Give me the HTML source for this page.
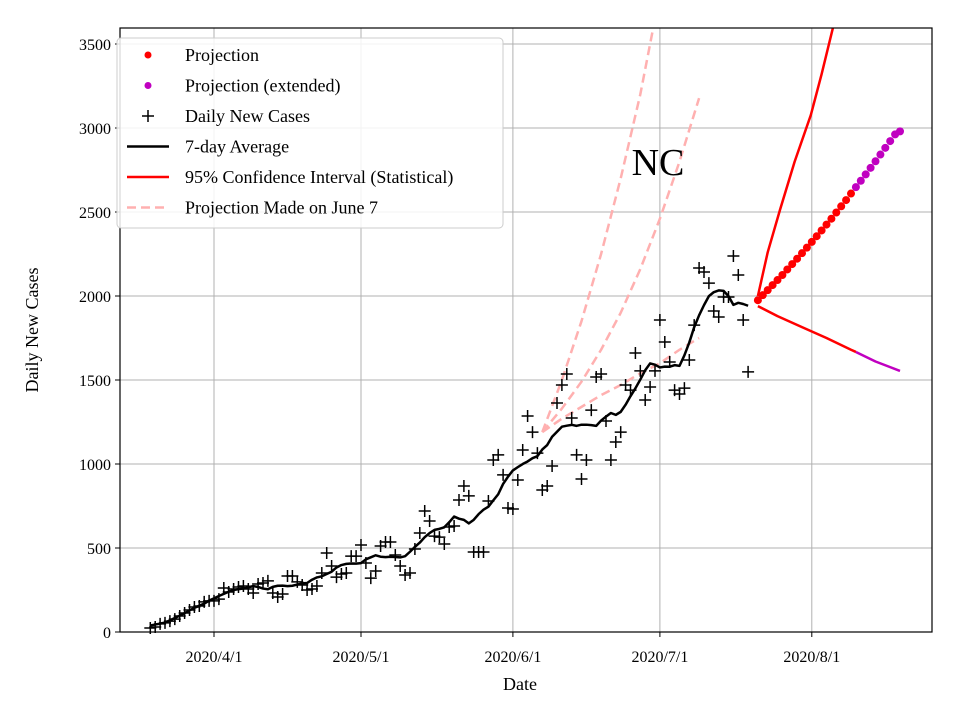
<!DOCTYPE html>
<html><head><meta charset="utf-8"><style>
body{margin:0;background:#fff}
svg{display:block;font-family:"Liberation Serif",serif}
</style></head><body>
<svg id="chart" width="960" height="720">
<rect x="0" y="0" width="960" height="720" fill="#fff"/>
<g id="grid"></g>
<g id="series"></g>
<g id="axes"></g>
<g id="legend"></g>
<text x="658" y="175" font-size="38" text-anchor="middle">NC</text>
<text x="520" y="690" font-size="18" text-anchor="middle">Date</text>
<text x="38" y="330" font-size="18" text-anchor="middle" transform="rotate(-90 38 330)">Daily New Cases</text>
</svg>
<script>
const dailyStartDay = -13;
const dailyCases = [24,30,48,54,65,77,95,113,131,149,155,179,185,185,196,262,238,256,268,274,256,232,286,292,304,232,208,226,333,333,298,280,250,256,274,351,470,393,327,345,351,452,452,518,411,321,363,512,536,536,458,393,339,351,494,589,720,661,571,565,524,625,631,786,869,810,476,476,476,780,1024,1054,935,738,732,905,1083,1286,1190,1065,845,869,988,1363,1470,1536,1274,1054,911,1024,1321,1518,1536,1256,1024,1131,1190,1470,1440,1661,1554,1381,1458,1554,1857,1726,1607,1440,1417,1452,1619,1827,2167,2143,2077,1911,1875,1994,1994,2238,2125,1857,1548];
const projStartDay = 111;
const projection = [1975,2005,2035,2065,2095,2125,2158,2190,2222,2255,2288,2322,2356,2390,2425,2460,2497,2534,2571,2610];
const projExtStartDay = 131;
const projectionExt = [2648,2686,2724,2763,2802,2842,2882,2922,2962,2980];
const ciDays = [111,113,115.5,118.5,121.8,124,126.3,128];
const ciUpper = [2000,2260,2512,2800,3077,3320,3595,3800];
const ciLowerDays = [111,115,120,125,130,131];
const ciLower = [1940,1880,1815,1750,1680,1667];
const ciLowerExtDays = [131,135,140];
const ciLowerExt = [1667,1610,1554];
const june7Days = [67,71,75,79,83,87,91,95,99];
const june7Upper = [1190,1500,1850,2250,2700,3200,3800,4500,5300];
const june7Mid = [1190,1330,1490,1680,1900,2160,2460,2800,3178];
const june7Low = [1190,1270,1340,1410,1470,1540,1600,1680,1750];
const xTickDays = [0,30,61,91,122];
const xTickLabels = ["2020/4/1","2020/5/1","2020/6/1","2020/7/1","2020/8/1"];
const yTicks = [0,500,1000,1500,2000,2500,3000,3500];

const L=120,R=932,T=28,B=632;
const X=d=>214+d*4.9;
const Y=v=>632-v*0.168;
const NS="http://www.w3.org/2000/svg";
function mk(tag,attrs,parent){const e=document.createElementNS(NS,tag);for(const k in attrs)e.setAttribute(k,attrs[k]);parent.appendChild(e);return e;}
const grid=document.getElementById('grid'),ser=document.getElementById('series'),axes=document.getElementById('axes'),leg=document.getElementById('legend');

xTickDays.forEach((d,i)=>{
  const g=mk('line',{x1:X(d),x2:X(d),y1:T,y2:B,stroke:'#b0b0b0','stroke-width':1},grid);
  
  
  mk('line',{x1:X(d),x2:X(d),y1:B,y2:B+5,stroke:'#000'},axes);
  const t=mk('text',{x:X(d),y:B+30,'font-size':16,'text-anchor':'middle'},axes);
  t.textContent=xTickLabels[i];
  
  
});
yTicks.forEach(v=>{
  const g=mk('line',{x1:L,x2:R,y1:Y(v),y2:Y(v),stroke:'#b0b0b0','stroke-width':1},grid);
  
  
  mk('line',{x1:L-5,x2:L,y1:Y(v),y2:Y(v),stroke:'#000'},axes);
  const t=mk('text',{x:L-9,y:Y(v)+6,'font-size':16,'text-anchor':'end'},axes);
  t.textContent=v;
  
  
});
const frame=mk('rect',{x:L,y:T,width:R-L,height:B-T,fill:'none',stroke:'#000','stroke-width':1.2},axes);



const cp=mk('clipPath',{id:'clip'},ser);mk('rect',{x:L,y:T,width:R-L,height:B-T},cp);
function line(days,vals,style,name){
  const p=mk('polyline',Object.assign({points:days.map((d,i)=>X(d)+','+Y(vals[i])).join(' '),fill:'none','clip-path':'url(#clip)','stroke-linejoin':'round'},style),ser);
  
  
}
const dash={stroke:'#ffb0b0','stroke-width':2.5,'stroke-dasharray':'9,5'};
line(june7Days,june7Upper,dash,'june7-projection-upper');
line(june7Days,june7Mid,dash,'june7-projection-mid');
line(june7Days,june7Low,dash,'june7-projection-low');

dailyCases.forEach((v,i)=>{
  const x=X(dailyStartDay+i),y=Y(v);
  const p=mk('path',{d:`M${x-6},${y}H${x+6}M${x},${y-6}V${y+6}`,stroke:'#000','stroke-width':1.5},ser);
  
  
});
const aD=[],aV=[];
for(let i=0;i<dailyCases.length;i++){const a=Math.max(0,i-3),b=Math.min(dailyCases.length-1,i+3);let s=0;for(let j=a;j<=b;j++)s+=dailyCases[j];aD.push(dailyStartDay+i);aV.push(s/(b-a+1));}
line(aD,aV,{stroke:'#000','stroke-width':2.5},'seven-day-average');

line(ciDays,ciUpper,{stroke:'#f00','stroke-width':2.5},'ci-upper');
line(ciLowerDays,ciLower,{stroke:'#f00','stroke-width':2.5},'ci-lower');
line(ciLowerExtDays,ciLowerExt,{stroke:'#c000c0','stroke-width':2.5},'ci-lower-extended');

projection.forEach((v,i)=>{
  const c=mk('circle',{cx:X(projStartDay+i),cy:Y(v),r:4,fill:'#f00'},ser);
  
  
});
projectionExt.forEach((v,i)=>{
  const c=mk('circle',{cx:X(projExtStartDay+i),cy:Y(v),r:4,fill:'#c000c0'},ser);
  
  
});

mk('rect',{x:117,y:38,width:386,height:190,rx:4,fill:'#fff','fill-opacity':0.85,stroke:'#ccc'},leg);
const items=[['dot','#f00','Projection'],['dot','#c000c0','Projection (extended)'],['plus','#000','Daily New Cases'],['line','#000','7-day Average'],['line','#f00','95% Confidence Interval (Statistical)'],['dash','#ffb0b0','Projection Made on June 7']];
items.forEach((it,i)=>{
  const y=55+i*30.5;
  const g=mk('g',{},leg);
  
  
  if(it[0]==='dot')mk('circle',{cx:148,cy:y,r:3.5,fill:it[1]},g);
  if(it[0]==='plus')mk('path',{d:`M142,${y}H154M148,${y-6}V${y+6}`,stroke:'#000','stroke-width':1.5},g);
  if(it[0]==='line')mk('line',{x1:127,x2:169,y1:y,y2:y,stroke:it[1],'stroke-width':2.5},g);
  if(it[0]==='dash')mk('line',{x1:127,x2:169,y1:y,y2:y,stroke:it[1],'stroke-width':2.5,'stroke-dasharray':'9,5'},g);
  const t=mk('text',{x:185,y:y+6,'font-size':18},g);t.textContent=it[2];
});
</script>
</body></html>
